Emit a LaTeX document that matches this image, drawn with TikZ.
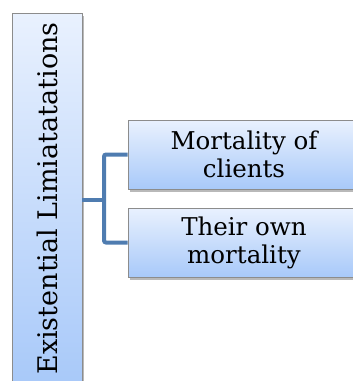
\documentclass[tikz,border=0pt]{standalone}
\usepackage{fontspec}
\setmainfont{DejaVu Serif}
\usetikzlibrary{shadows}
\definecolor{boxtop}{RGB}{233,241,254}
\definecolor{boxbot}{RGB}{168,201,249}
\definecolor{boxline}{RGB}{140,140,140}
\definecolor{linkblue}{RGB}{79,124,176}
\begin{document}
\begin{tikzpicture}[x=1pt, y=-1pt,
    box/.style={draw=boxline, line width=0.8pt, top color=boxtop, bottom color=boxbot,
        inner sep=0pt, align=center,
        drop shadow={shadow xshift=1.5pt, shadow yshift=-2.5pt, opacity=0.55}},
    rootbox/.style={box, minimum width=70pt, minimum height=371pt,
        font=\fontsize{27}{30}\selectfont},
    leafbox/.style={box, minimum width=232pt, minimum height=69pt,
        font=\fontsize{24.5}{28}\selectfont},
    link/.style={draw=linkblue, line width=4pt, rounded corners=2pt}]
    \useasboundingbox (0,0) rectangle (353,381);
    \node[rootbox] (root) at (47,198.5) {\rotatebox{90}{Existential Limiatatations}};
    \node[leafbox] (mortclients) at (244,154.5) {Mortality of\\clients};
    \node[leafbox] (ownmort) at (244,242.5) {Their own\\mortality};
    \coordinate (fork) at (104,200);
    \draw[link] (root.east |- fork) -- (fork);
    \draw[link] (fork) |- (mortclients.west);
    \draw[link] (fork) |- (ownmort.west);
\end{tikzpicture}
\end{document}
